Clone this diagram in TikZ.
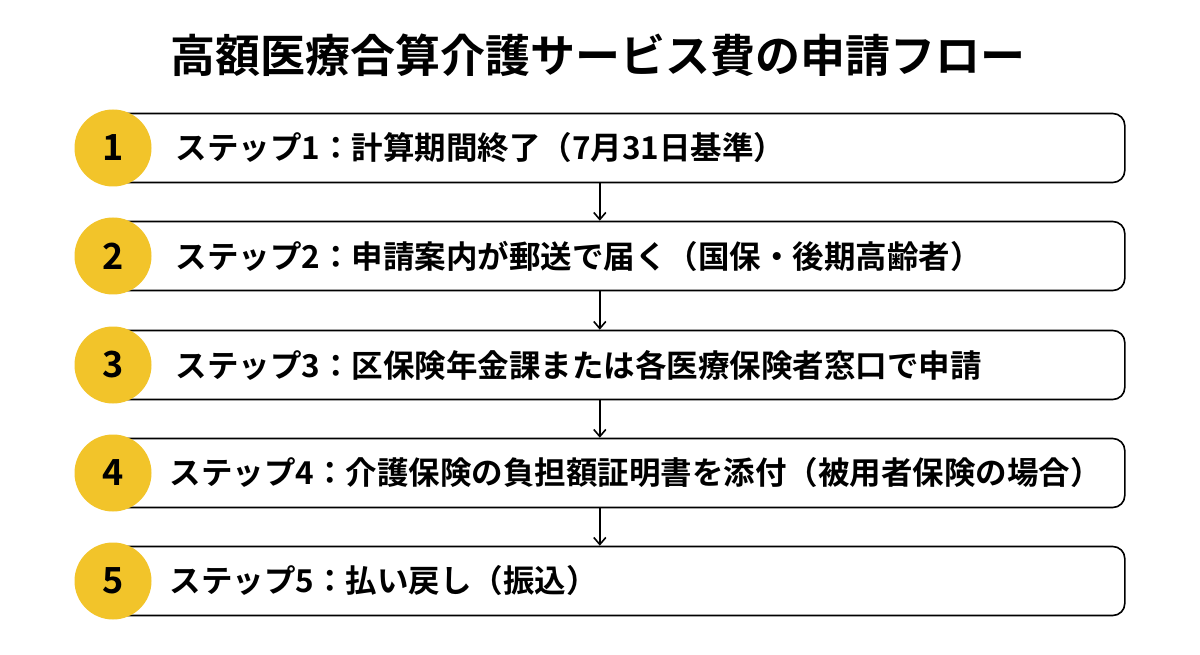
\documentclass[tikz,border=0pt]{standalone}
\usepackage{fontspec}
\setmainfont{Noto Sans CJK JP}[BoldFont={Noto Sans CJK JP Bold}]
\usetikzlibrary{arrows.meta}
\definecolor{stepyellow}{HTML}{F2C42A}
\tikzset{
    stepbox/.style={draw, line width=1.6pt, rounded corners=12pt, minimum width=1010pt, minimum height=69pt, anchor=west, fill=white},
    stepnum/.style={circle, fill=stepyellow, minimum size=77pt, inner sep=0pt, font=\fontsize{36}{36}\selectfont\bfseries},
    steptext/.style={anchor=west, font=\fontsize{31.5}{32}\selectfont\bfseries},
    steparrow/.style={-{Straight Barb[length=7pt,width=12pt]}, line width=1.6pt}
}
\begin{document}
\begin{tikzpicture}[x=1pt,y=-1pt]
\useasboundingbox (0,0) rectangle (1200,655);
\node[font=\fontsize{45}{45}\selectfont\bfseries] (title) at (598,55) {高額医療合算介護サービス費の申請フロー};
\foreach \n/\y/\tx/\labeltext in {1/148/172/{ステップ1：計算期間終了（7月31日基準）},
    2/256/172/{ステップ2：申請案内が郵送で届く（国保・後期高齢者）},
    3/365/172/{ステップ3：区保険年金課または各医療保険者窓口で申請},
    4/473/166/{ステップ4：介護保険の負担額証明書を添付（被用者保険の場合）},
    5/581/166/{ステップ5：払い戻し（振込）}}{
\node[stepbox] (box\n) at (114,\y) {};
\node[stepnum] (num\n) at (113,\y) {\n};
\node[steptext] (txt\n) at (\tx,\y) {\labeltext};
}
\foreach \a/\b in {1/2,2/3,3/4,4/5}{
\draw[steparrow] ([xshift=-20pt]box\a.south) -- ([xshift=-20pt]box\b.north);
}
\end{tikzpicture}
\end{document}
